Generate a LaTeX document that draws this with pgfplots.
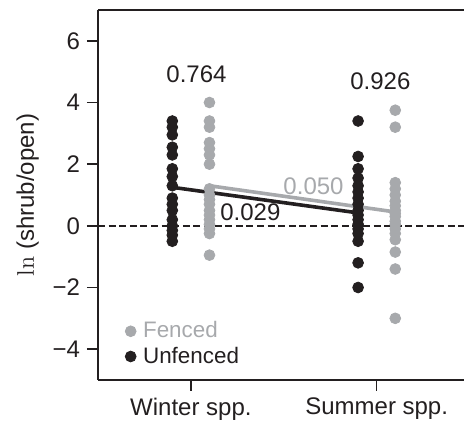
\documentclass[border=0pt]{standalone}
\usepackage[no-math]{fontspec}
\setmainfont{Liberation Sans}
\usepackage{pgfplots}
\pgfplotsset{compat=1.18}
\usetikzlibrary{calc}

\definecolor{dk}{HTML}{231F20}
\definecolor{gr}{HTML}{A7A9AC}

\newcommand{\lbl}{\fontsize{11.2}{13}\selectfont}
\newcommand{\tlbl}{\fontsize{12}{14}\selectfont}

\begin{document}
\begin{tikzpicture}
\begin{axis}[
  scale only axis,
  width=183pt, height=185pt,
  xmin=0.5, xmax=2.47,
  ymin=-5, ymax=7,
  axis x line=box, axis y line=left,
  axis line style={-, dk, line width=0.7pt},
  xtick={1,2}, xticklabels={Winter spp., Summer spp.},
  ytick={-4,-2,0,2,4,6},
  yticklabels={−4,−2,0,2,4,6},
  xtick pos=bottom, ytick pos=left,
  tick align=outside,
  major tick length=5.5pt,
  tick style={dk, line width=0.7pt},
  tick label style={font=\tlbl, text=dk},
  ylabel={$\ln$ (shrub/open)},
  ylabel style={font=\tlbl, text=dk},
  legend style={at={(rel axis cs:0.068,0.175)}, anchor=north west,
    draw=none, fill=none, font=\lbl, inner sep=1pt,
    row sep=-1pt, cells={anchor=west}},
  legend cell align=left,
  clip=false,
]
% zero line
\addplot[forget plot, dk, line width=0.75pt, dash pattern=on 3.5pt off 1.8pt]
  coordinates {(0.5,0) (2.47,0)};

% fenced (grey)
\addplot[only marks, mark=*, mark size=2.7pt, gr, mark options={draw=gr, fill=gr}]
  coordinates {
  (1.1,4.0) (1.1,3.4) (1.1,3.2) (1.1,2.7) (1.1,2.5) (1.1,2.3) (1.1,2.0)
  (1.1,1.2) (1.1,1.0) (1.1,0.85) (1.1,0.7) (1.1,0.5) (1.1,0.35) (1.1,0.2)
  (1.1,0.05) (1.1,-0.1) (1.1,-0.25) (1.1,-0.95)
  (2.1,3.75) (2.1,3.2) (2.1,1.4) (2.1,1.2) (2.1,1.0) (2.1,0.8) (2.1,0.65)
  (2.1,0.5) (2.1,0.4) (2.1,0.3) (2.1,0.15) (2.1,0.05) (2.1,-0.1) (2.1,-0.25)
  (2.1,-0.45) (2.1,-0.85) (2.1,-1.4) (2.1,-3.0)
  };
\addlegendentry{\hspace{1.5pt}\textcolor{gr}{Fenced}}

% unfenced (black)
\addplot[only marks, mark=*, mark size=2.7pt, dk, mark options={draw=dk, fill=dk}]
  coordinates {
  (0.9,3.4) (0.9,3.2) (0.9,2.95) (0.9,2.55) (0.9,2.3) (0.9,1.85) (0.9,1.6)
  (0.9,1.3) (0.9,0.9) (0.9,0.7) (0.9,0.5) (0.9,0.2) (0.9,0.0) (0.9,-0.15)
  (0.9,-0.3) (0.9,-0.5)
  (1.9,3.4) (1.9,2.25) (1.9,1.85) (1.9,1.55) (1.9,1.3) (1.9,1.1) (1.9,0.9)
  (1.9,0.7) (1.9,0.5) (1.9,0.35) (1.9,0.2) (1.9,0.05) (1.9,-0.1) (1.9,-0.25)
  (1.9,-0.5) (1.9,-1.2) (1.9,-2.0)
  };
\addlegendentry{\hspace{1.5pt}\textcolor{dk}{Unfenced}}

% means
\addplot[forget plot, gr, line width=1.8pt] coordinates {(1.1,1.3) (2.1,0.45)};
\addplot[forget plot, dk, line width=1.8pt] coordinates {(0.9,1.25) (1.9,0.42)};

\node[font=\tlbl, text=dk] at (axis cs:1.03,4.93) {0.764};
\node[font=\tlbl, text=dk] at (axis cs:2.02,4.68) {0.926};
\node[font=\tlbl, text=gr] at (axis cs:1.66,1.3) {0.050};
\node[font=\tlbl, text=dk] at (axis cs:1.32,0.45) {0.029};
\end{axis}
\pgfresetboundingbox
\path[use as bounding box] ($(current axis.south west)+(-49pt,-20.5pt)$)
  rectangle ($(current axis.north east)+(0pt,5pt)$);
\end{tikzpicture}
\end{document}
